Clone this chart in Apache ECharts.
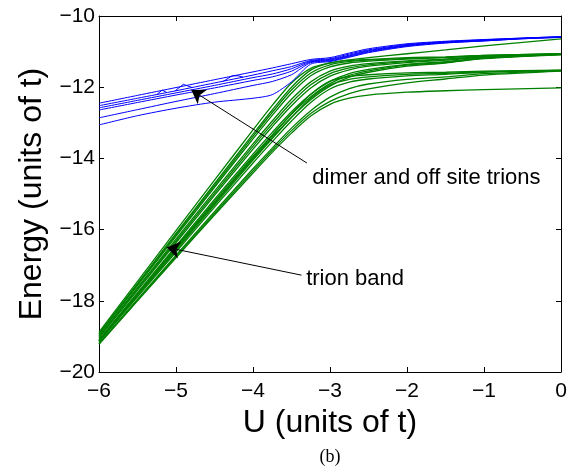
<!DOCTYPE html>
<html>
<head>
<meta charset="utf-8">
<script src="https://cdn.jsdelivr.net/npm/echarts@6/dist/echarts.min.js"></script>
<style>
  html, body { margin: 0; padding: 0; background: #fff; }
  #chart { width: 585px; height: 474px; }
</style>
</head>
<body>
<div id="chart"></div>
<script>
// U values (units of t) at which the levels are tabulated
const uTrion = [-6, -5, -4.5, -4, -3.75, -3.5, -3.25, -3, -2.75, -2.5, -2, -1.5, -1, 0];
const uDimer = [-6, -5.5, -5, -4.5, -4, -3.75, -3.5, -3.25, -3, -2.75, -2.5, -2, -1.5, -1, -0.5, 0];

// Trion band levels (energy, units of t)
const trion1  = [-18.88, -16.03, -14.61, -13.20, -12.51, -11.88, -11.47, -11.32, -11.23, -11.17, -11.06, -10.95, -10.84, -10.64];
const trion2  = [-18.92, -16.11, -14.71, -13.32, -12.64, -12.00, -11.52, -11.32, -11.25, -11.22, -11.17, -11.15, -11.11, -11.06];
const trion3  = [-18.93, -16.15, -14.76, -13.38, -12.71, -12.08, -11.60, -11.37, -11.28, -11.24, -11.19, -11.16, -11.11, -11.06];
const trion4  = [-18.95, -16.19, -14.81, -13.45, -12.79, -12.17, -11.68, -11.43, -11.32, -11.27, -11.21, -11.17, -11.12, -11.07];
const trion5  = [-18.99, -16.27, -14.92, -13.59, -12.95, -12.34, -11.85, -11.55, -11.41, -11.34, -11.26, -11.21, -11.14, -11.07];
const trion6  = [-19.01, -16.32, -14.98, -13.66, -13.03, -12.43, -11.93, -11.62, -11.46, -11.37, -11.28, -11.22, -11.15, -11.07];
const trion7  = [-19.04, -16.37, -15.04, -13.74, -13.11, -12.52, -12.02, -11.69, -11.51, -11.41, -11.31, -11.24, -11.16, -11.08];
const trion8  = [-19.09, -16.46, -15.15, -13.88, -13.27, -12.69, -12.20, -11.84, -11.62, -11.50, -11.36, -11.28, -11.18, -11.08];
const trion9  = [-19.11, -16.50, -15.20, -13.94, -13.34, -12.76, -12.27, -11.90, -11.67, -11.54, -11.38, -11.30, -11.19, -11.08];
const trion10 = [-19.13, -16.54, -15.26, -14.01, -13.41, -12.84, -12.35, -11.97, -11.72, -11.58, -11.41, -11.32, -11.20, -11.09];
const trion11 = [-19.11, -16.54, -15.25, -13.98, -13.36, -12.75, -12.20, -11.83, -11.70, -11.65, -11.60, -11.58, -11.55, -11.52];
const trion12 = [-19.13, -16.58, -15.31, -14.05, -13.44, -12.85, -12.31, -11.94, -11.78, -11.71, -11.64, -11.61, -11.57, -11.53];
const trion13 = [-19.15, -16.63, -15.37, -14.13, -13.53, -12.95, -12.43, -12.05, -11.86, -11.77, -11.68, -11.64, -11.58, -11.53];
const trion14 = [-19.20, -16.72, -15.50, -14.29, -13.71, -13.15, -12.66, -12.28, -12.04, -11.91, -11.78, -11.71, -11.62, -11.54];
const trion15 = [-19.21, -16.76, -15.55, -14.35, -13.77, -13.22, -12.74, -12.40, -12.18, -12.05, -11.88, -11.77, -11.66, -11.55];
const trion16 = [-19.22, -16.79, -15.59, -14.41, -13.83, -13.29, -12.81, -12.48, -12.31, -12.22, -12.14, -12.10, -12.07, -12.02];

// Dimer and off-site trion levels
const dimer1 = [-12.45, -12.23, -12.01, -11.79, -11.57, -11.46, -11.34, -11.22, -11.17, -11.04, -10.92, -10.78, -10.71, -10.66, -10.62, -10.58];
const dimer2 = [-12.52, -12.31, -12.10, -11.88, -11.66, -11.54, -11.42, -11.25, -11.20, -11.07, -10.95, -10.80, -10.72, -10.67, -10.62, -10.58];
const dimer3 = [-12.58, -12.37, -12.16, -11.95, -11.73, -11.63, -11.48, -11.27, -11.22, -11.10, -10.97, -10.82, -10.73, -10.68, -10.63, -10.59];
const dimer4 = [-12.64, -12.43, -12.22, -12.02, -11.81, -11.71, -11.55, -11.29, -11.24, -11.12, -10.99, -10.83, -10.74, -10.69, -10.63, -10.59];
const dimer5 = [-12.86, -12.63, -12.40, -12.18, -11.95, -11.84, -11.65, -11.31, -11.26, -11.14, -11.01, -10.84, -10.75, -10.70, -10.64, -10.60];
const dimer6 = [-13.06, -12.80, -12.59, -12.42, -12.31, -12.21, -11.85, -11.35, -11.28, -11.16, -11.03, -10.86, -10.76, -10.70, -10.64, -10.60];

// Level-crossing kinks on the second dimer level
const kinkA = [[-5.25, -12.21], [-5.18, -12.08], [-5.12, -12.15]];
const kinkB = [[-5.01, -12.10], [-4.905, -11.92], [-4.79, -12.01]];
const kinkC = [[-4.39, -11.84], [-4.27, -11.68], [-4.19, -11.68], [-4.13, -11.72]];

// Annotations: text anchor (left, middle), arrow tail and arrow head in data units
const noteTexts = ['dimer and off site trions', 'trion band'];
const notePos   = [[-3.23, -14.55], [-3.31, -17.39]];
const arrowTail = [[-3.30, -14.13], [-3.37, -17.28]];
const arrowHead = [[-4.80, -12.08], [-5.12, -16.50]];

const trionSets = [trion1, trion2, trion3, trion4, trion5, trion6, trion7, trion8,
                   trion9, trion10, trion11, trion12, trion13, trion14, trion15, trion16];
const dimerSets = [dimer1, dimer2, dimer3, dimer4, dimer5, dimer6];

const SANS = '"Liberation Sans", Arial, Helvetica, sans-serif';
const minusSign = v => String(v).replace('-', '\u2212');
const pair = (us, es) => us.map((u, i) => [u, es[i]]);

const series = [];
trionSets.forEach(es => series.push({
  type: 'line', data: pair(uTrion, es), symbol: 'none', smooth: 0.3,
  lineStyle: { color: '#008000', width: 1.3 }, silent: true
}));
dimerSets.forEach(es => series.push({
  type: 'line', data: pair(uDimer, es), symbol: 'none', smooth: 0.25,
  lineStyle: { color: '#0000ff', width: 1 }, silent: true
}));
[kinkA, kinkB, kinkC].forEach(pts => series.push({
  type: 'line', data: pts, symbol: 'none',
  lineStyle: { color: '#0000ff', width: 1 }, silent: true
}));
// Arrows of the annotations
series.push({
  type: 'line', data: [], silent: true,
  markLine: {
    silent: true, symbol: ['none', 'arrow'], symbolSize: 13,
    label: { show: false },
    lineStyle: { color: '#000', width: 1, type: 'solid', opacity: 1 },
    emphasis: { disabled: true },
    data: arrowTail.map((t, i) => [{ coord: t }, { coord: arrowHead[i] }])
  }
});

const frameAxis = (pos, withLabels) => ({
  type: 'value', position: pos,
  axisLine: { onZero: false, lineStyle: { color: '#000', width: 1 } },
  axisTick: { inside: true, length: 5, lineStyle: { color: '#000', width: 1 } },
  splitLine: { show: false },
  axisLabel: withLabels
    ? { formatter: minusSign, color: '#000', fontSize: 21, fontFamily: SANS }
    : { show: false }
});

const option = {
  animation: false,
  backgroundColor: '#fff',
  grid: { left: 99, top: 16, right: 24, bottom: 102 },
  xAxis: [
    Object.assign(frameAxis('bottom', true), {
      min: -6, max: 0, interval: 1,
      name: 'U (units of t)', nameLocation: 'middle', nameGap: 28,
      nameTextStyle: { fontSize: 32, color: '#000', fontFamily: SANS }
    }),
    Object.assign(frameAxis('top', false), { min: -6, max: 0, interval: 1 })
  ],
  yAxis: [
    Object.assign(frameAxis('left', true), {
      min: -20, max: -10, interval: 2,
      name: 'Energy (units of t)', nameLocation: 'middle', nameGap: 50,
      nameTextStyle: { fontSize: 32, color: '#000', fontFamily: SANS }
    }),
    Object.assign(frameAxis('right', false), { min: -20, max: -10, interval: 2 })
  ],
  series: series
};
option.xAxis[0].axisLabel.margin = 9;
option.yAxis[0].axisLabel.margin = 4;

const chart = echarts.init(document.getElementById('chart'), null, { renderer: 'canvas' });
chart.setOption(option);

// Annotation texts and the sub-figure tag, anchored through the axes
const noteGraphics = noteTexts.map((t, i) => {
  const p = chart.convertToPixel({ xAxisIndex: 0, yAxisIndex: 0 }, notePos[i]);
  return {
    type: 'text', x: p[0], y: p[1], silent: true,
    style: { text: t, fill: '#000', fontSize: 22, fontFamily: SANS,
             align: 'left', verticalAlign: 'middle' }
  };
});
noteGraphics.push({
  type: 'text', x: 330, y: 457, silent: true,
  style: { text: '(b)', fill: '#000', fontSize: 18,
           fontFamily: '"Liberation Serif", "DejaVu Serif", serif',
           align: 'center', verticalAlign: 'middle' }
});
chart.setOption({ graphic: noteGraphics });
</script>
</body>
</html>
